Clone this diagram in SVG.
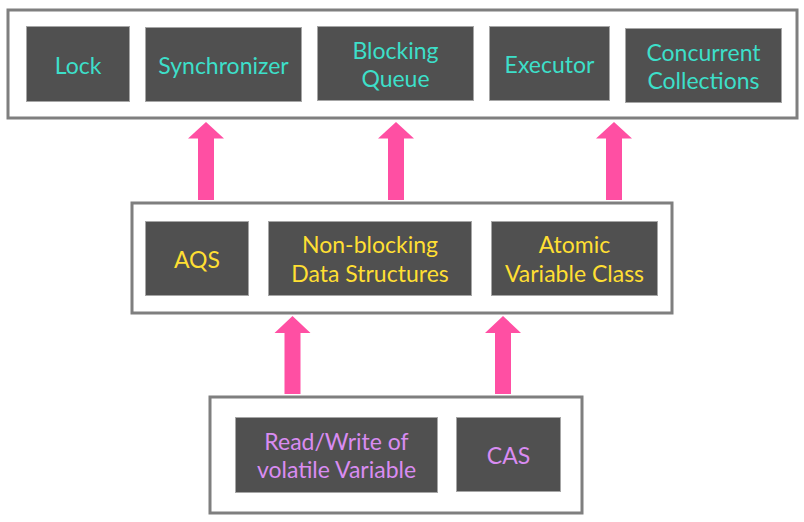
<svg xmlns="http://www.w3.org/2000/svg" width="804" height="522" viewBox="0 0 804 522">
<style>
.layer{fill:#fff;stroke:#7f7f7f;stroke-width:3}
.box{fill:#505050;stroke:#a6a6a6;stroke-width:1}
.t{font-family:Lato,"Open Sans","Liberation Sans",sans-serif;font-size:23px;text-anchor:middle}
.teal{fill:#3ddfc9}
.yel{fill:#ffdf33}
.pur{fill:#d98cf2}
.arrow{fill:#ff4fa3}
</style>
<rect width="804" height="522" fill="#fff"/>
<g id="layer-top"><rect class="layer" x="8" y="10" width="789" height="108"/></g>
<g id="layer-mid"><rect class="layer" x="132" y="203" width="540" height="110"/></g>
<g id="layer-bottom"><rect class="layer" x="210" y="397" width="372" height="116"/></g>

<g id="node-lock"><rect class="box" x="26.5" y="26.5" width="103" height="75"/><text class="t teal" x="78" y="74">Lock</text></g>
<g id="node-synchronizer"><rect class="box" x="145.5" y="27.5" width="156" height="74"/><text class="t teal" x="223.5" y="74">Synchronizer</text></g>
<g id="node-blocking-queue"><rect class="box" x="317.5" y="26.5" width="156" height="74"/><text class="t teal" x="395.5" y="59">Blocking</text><text class="t teal" x="395.5" y="87">Queue</text></g>
<g id="node-executor"><rect class="box" x="489.5" y="26.5" width="120" height="74"/><text class="t teal" x="549.5" y="73">Executor</text></g>
<g id="node-concurrent-collections"><rect class="box" x="625.5" y="28.5" width="156" height="74"/><text class="t teal" x="703.5" y="61">Concurrent</text><text class="t teal" x="703.5" y="89">Collections</text></g>

<g id="node-aqs"><rect class="box" x="145.5" y="221.5" width="103" height="74"/><text class="t yel" x="197" y="268">AQS</text></g>
<g id="node-nonblocking"><rect class="box" x="268.5" y="221.5" width="203" height="74"/><text class="t yel" x="370" y="253">Non-blocking</text><text class="t yel" x="370" y="282">Data Structures</text></g>
<g id="node-atomic"><rect class="box" x="491.5" y="221.5" width="166" height="74"/><text class="t yel" x="574.5" y="253">Atomic</text><text class="t yel" x="574.5" y="282">Variable Class</text></g>

<g id="node-volatile"><rect class="box" x="235.5" y="417.5" width="202" height="75"/><text class="t pur" x="336.5" y="450">Read/Write of</text><text class="t pur" x="336.5" y="478">volatile Variable</text></g>
<g id="node-cas"><rect class="box" x="456.5" y="417.5" width="104" height="74"/><text class="t pur" x="508.5" y="464">CAS</text></g>

<g id="connectors">
<polygon class="arrow" points="206,122 224,138.5 214,138.5 214,200 198,200 198,138.5 188,138.5"/>
<polygon class="arrow" points="396,122 414,138.5 404,138.5 404,200 388,200 388,138.5 378,138.5"/>
<polygon class="arrow" points="614,122 632,138.5 622,138.5 622,200 606,200 606,138.5 596,138.5"/>
<polygon class="arrow" points="292.5,316 310.5,333 300.5,333 300.5,394 284.5,394 284.5,333 274.5,333"/>
<polygon class="arrow" points="503,316 521,333 511,333 511,394 495,394 495,333 485,333"/>
</g>
</svg>
